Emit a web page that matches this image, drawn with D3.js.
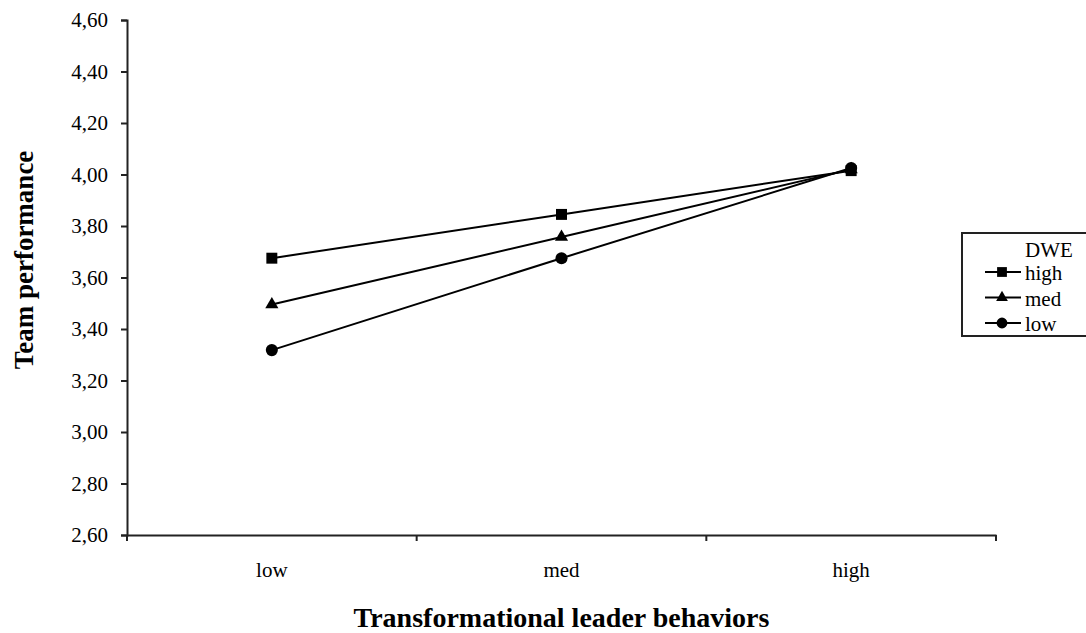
<!DOCTYPE html>
<html>
<head>
<meta charset="utf-8">
<script src="https://cdn.jsdelivr.net/npm/d3@7"></script>
<style>
    body { margin: 0; background: #fff; }
    text { font-family: "Liberation Serif", "Times New Roman", serif; fill: #000; }
</style>
</head>
<body>
<div id="chart"></div>
<script>
// categories and values
let categories = ["low", "med", "high"]
let seriesNames = ["high", "med", "low"]
let seriesSymbols = ["square", "triangle", "circle"]
let highValues = [3.675, 3.845, 4.015]
let medValues = [3.495, 3.757, 4.02]
let lowValues = [3.318, 3.675, 4.025]
let yTicks = [2.6, 2.8, 3.0, 3.2, 3.4, 3.6, 3.8, 4.0, 4.2, 4.4, 4.6]

let series = [
    {name: seriesNames[0], symbol: seriesSymbols[0], values: highValues},
    {name: seriesNames[1], symbol: seriesSymbols[1], values: medValues},
    {name: seriesNames[2], symbol: seriesSymbols[2], values: lowValues}
]

let W = 1086, H = 633
let margin = {top: 20, right: 90, bottom: 98, left: 127}
let width = 996 - margin.left
let height = 535 - margin.top

let svg = d3.select("#chart").append("svg")
    .attr("width", W)
    .attr("height", H)

let g = svg.append("g")
    .attr("transform", `translate(${margin.left}, ${margin.top})`)

// scales
let x = d3.scaleBand().domain(categories).range([0, width])
let y = d3.scaleLinear().domain([2.6, 4.6]).range([height, 0])

let fmt = d => d3.format(".2f")(d).replace(".", ",")

// axes
let xAxis = g.append("g")
    .attr("transform", `translate(0, ${height})`)
    .call(d3.axisBottom(x).tickSize(0).tickPadding(27))
    .attr("font-family", "Liberation Serif")
    .attr("font-size", 21)
xAxis.select(".domain").attr("stroke", "#222").attr("stroke-width", 2)
xAxis.selectAll("text").attr("fill", "#000")
// tick marks on band edges like Excel
xAxis.selectAll(".edge")
    .data(categories.map(c => x(c)).concat([width]))
    .enter().append("line")
    .attr("class", "edge")
    .attr("x1", d => d).attr("x2", d => d)
    .attr("y1", 0).attr("y2", 6)
    .attr("stroke", "#222").attr("stroke-width", 2)

let yAxis = g.append("g")
    .call(d3.axisLeft(y).tickValues(yTicks).tickFormat(fmt).tickSize(6).tickPadding(13))
    .attr("font-family", "Liberation Serif")
    .attr("font-size", 21)
yAxis.select(".domain").attr("stroke", "#222").attr("stroke-width", 2)
yAxis.selectAll(".tick line").attr("stroke", "#222").attr("stroke-width", 2)
yAxis.selectAll("text").attr("fill", "#000")

// axis titles
svg.append("text")
    .attr("x", margin.left + width / 2)
    .attr("y", 627)
    .attr("text-anchor", "middle")
    .style("font-size", "28px")
    .style("font-weight", "bold")
    .text("Transformational leader behaviors")

svg.append("text")
    .attr("transform", "translate(33, 260) rotate(-90)")
    .attr("text-anchor", "middle")
    .style("font-size", "27px")
    .style("font-weight", "bold")
    .text("Team performance")

// lines and markers
let line = d3.line()
    .x((d, i) => x(categories[i]) + x.bandwidth() / 2)
    .y(d => y(d))

let symbolType = {square: d3.symbolSquare, triangle: d3.symbolTriangle, circle: d3.symbolCircle}
let symbolSize = {square: 120, triangle: 75, circle: 115}

series.forEach(s => {
    g.append("path")
        .datum(s.values)
        .attr("d", line)
        .attr("fill", "none")
        .attr("stroke", "#000")
        .attr("stroke-width", 2)

    g.selectAll(".pt-" + s.name)
        .data(s.values)
        .enter().append("path")
        .attr("class", "pt-" + s.name)
        .attr("transform", (d, i) => `translate(${x(categories[i]) + x.bandwidth() / 2}, ${y(d)})`)
        .attr("d", d3.symbol().type(symbolType[s.symbol]).size(symbolSize[s.symbol]))
        .attr("fill", "#000")
})

// legend
let legend = svg.append("g").attr("transform", "translate(962, 233)")
legend.append("rect")
    .attr("x", 0).attr("y", 0)
    .attr("width", 130).attr("height", 103)
    .attr("fill", "#fff")
    .attr("stroke", "#222")
    .attr("stroke-width", 2)

legend.append("text")
    .attr("x", 63).attr("y", 24)
    .style("font-size", "21px")
    .text("DWE")

series.forEach((s, i) => {
    let ly = 39 + i * 25.5
    legend.append("line")
        .attr("x1", 23).attr("x2", 59)
        .attr("y1", ly).attr("y2", ly)
        .attr("stroke", "#000").attr("stroke-width", 2)
    legend.append("path")
        .attr("transform", `translate(40, ${ly})`)
        .attr("d", d3.symbol().type(symbolType[s.symbol]).size(symbolSize[s.symbol] * 0.8))
        .attr("fill", "#000")
    legend.append("text")
        .attr("x", 63).attr("y", ly + 8)
        .style("font-size", "21px")
        .text(s.name)
})
</script>
</body>
</html>
